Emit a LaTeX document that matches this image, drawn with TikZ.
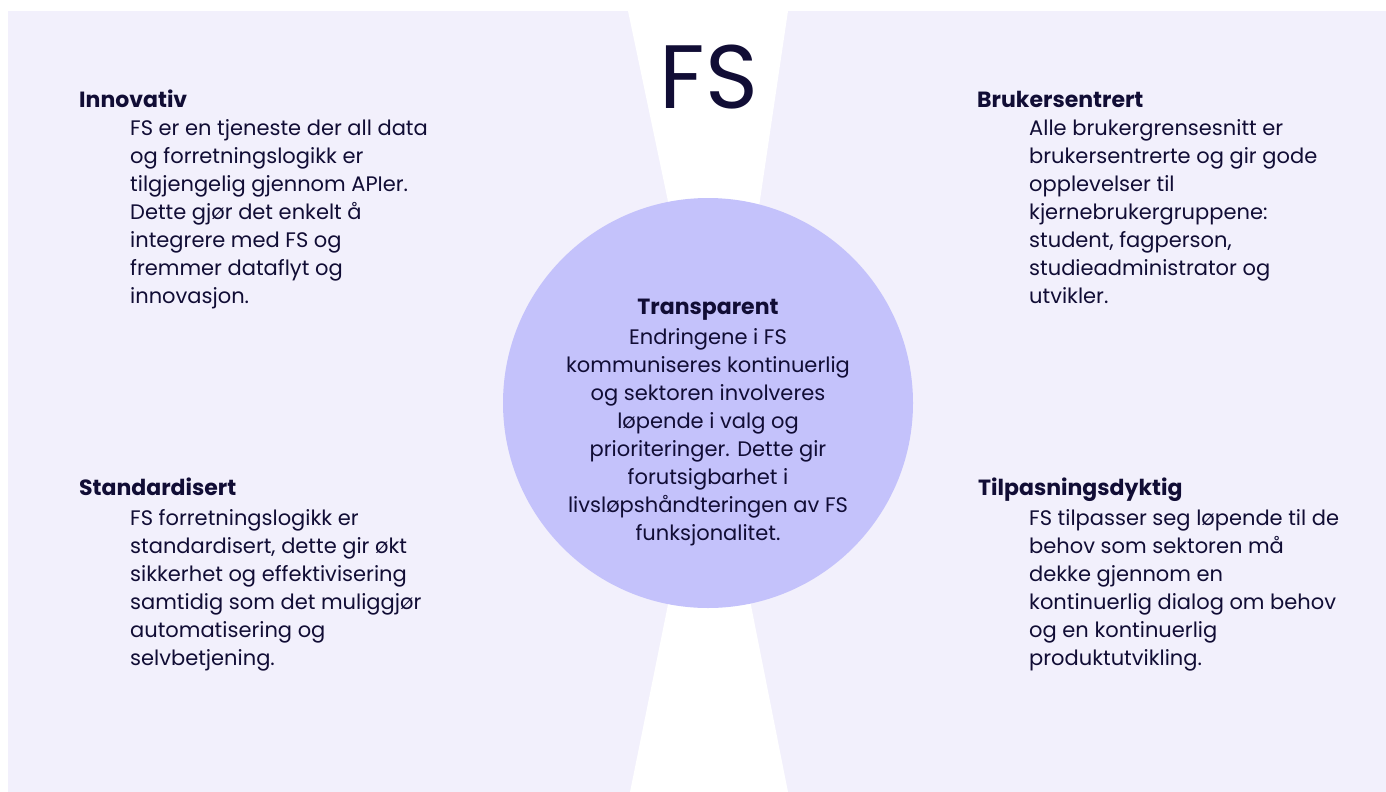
\documentclass[tikz,border=0pt]{standalone}
\usepackage{fontspec}
\setmainfont{Poppins}
\definecolor{bgc}{HTML}{F2F0FC}
\definecolor{corec}{HTML}{C4C2FB}
\definecolor{ink}{HTML}{110D35}
\tikzset{
  body/.style={align=left, inner sep=0pt, anchor=base west, text=ink, font=\fontsize{21}{28}\selectfont},
  cbody/.style={align=center, inner sep=0pt, anchor=base, text=ink, font=\fontsize{21}{28}\selectfont},
  head/.style={inner sep=0pt, anchor=base west, text=ink, font=\fontsize{22}{28}\selectfont\bfseries},
}
\begin{document}
\begin{tikzpicture}[x=1pt,y=-1pt]
\useasboundingbox (0,0) rectangle (1386,792);
\fill[bgc] (8,11) rectangle (1386,792);
\fill[white] (628,11) -- (788,11) -- (752.6,250) -- (678.2,250) -- cycle;
\fill[white] (630,792) -- (788,792) -- (742,560) -- (677,560) -- cycle;
\node[circle, fill=corec, minimum size=410pt, inner sep=0pt] (core) at (708,403) {};
\node[inner sep=0pt, anchor=base, text=ink, font=\fontsize{90}{90}\selectfont] (title) at (709,108) {FS};

% multi-line nodes: base anchor sits on the last line
\node[head] (innovH) at (79,107) {Innovativ};
\node[body] (innovB) at (130,303) {FS er en tjeneste der all data\\og forretningslogikk er\\tilgjengelig gjennom APIer.\\Dette gjør det enkelt å\\integrere med FS og\\fremmer dataflyt og\\innovasjon.};

\node[head] (brukH) at (977,107) {Brukersentrert};
\node[body] (brukB) at (1029,303) {Alle brukergrensesnitt er\\brukersentrerte og gir gode\\opplevelser til\\kjernebrukergruppene:\\student, fagperson,\\studieadministrator og\\utvikler.};

\node[head] (stdH) at (79,495) {Standardisert};
\node[body] (stdB) at (130,665) {FS forretningslogikk er\\standardisert, dette gir økt\\sikkerhet og effektivisering\\samtidig som det muliggjør\\automatisering og\\selvbetjening.};

\node[head] (tilH) at (978,495) {Tilpasningsdyktig};
\node[body] (tilB) at (1029,665) {FS tilpasser seg løpende til de\\behov som sektoren må\\dekke gjennom en\\kontinuerlig dialog om behov\\og en kontinuerlig\\produktutvikling.};

\node[cbody, font=\fontsize{22}{28}\selectfont\bfseries] (transH) at (708,314) {Transparent};
\node[cbody] (transB) at (708,540) {Endringene i FS\\kommuniseres kontinuerlig\\og sektoren involveres\\løpende i valg og\\prioriteringer. Dette gir\\forutsigbarhet i\\livsløpshåndteringen av FS\\funksjonalitet.};
\end{tikzpicture}
\end{document}
